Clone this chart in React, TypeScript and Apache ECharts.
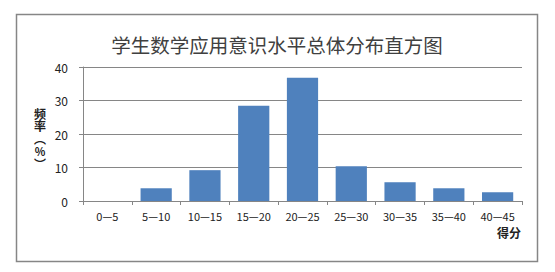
import React, { useEffect, useRef } from "react";
import * as echarts from "echarts";

// Score intervals (得分) and relative frequency (%)
const categories = ["0—5", "5—10", "10—15", "15—20", "20—25", "25—30", "30—35", "35—40", "40—45"];
const frequency = [0, 3.8, 9.2, 28.4, 36.8, 10.4, 5.6, 3.8, 2.6];
const yTicks = { min: 0, max: 40, interval: 10 };

const TITLE = "学生数学应用意识水平总体分布直方图";
// vertical axis name, one glyph per row (vertical-form brackets)
const Y_NAME_CHARS = ["频", "率", "︵", "%", "︶"];
const X_NAME = "得分";

const GRAY = "#868686";
const CJK = '"Noto Sans CJK SC", "Noto Sans", sans-serif';

export default function App() {
  const ref = useRef<HTMLDivElement>(null);

  useEffect(() => {
    if (!ref.current) return;
    const chart = echarts.init(ref.current, null, { renderer: "svg" });
    const yNameTexts = Y_NAME_CHARS.map((ch, i) => ({
      type: "text",
      x: 40,
      y: 113 + i * 12.5,
      style: {
        text: ch,
        fontFamily: CJK,
        fontSize: ch === "%" ? 11 : 12,
        lineHeight: 12,
        fontWeight: "bold",
        fill: "#222",
        align: "center",
        verticalAlign: "middle",
      },
    }));
    chart.setOption({
      animation: false,
      backgroundColor: "#ffffff",
      title: {
        text: TITLE,
        left: 272,
        textAlign: "center",
        top: 30,
        textStyle: { fontFamily: CJK, fontSize: 19.5, fontWeight: "normal", color: "#404040" },
      },
      grid: { left: 83, right: 33, top: 67, bottom: 71, containLabel: false },
      xAxis: {
        type: "category",
        data: categories,
        axisLine: { show: true, lineStyle: { color: GRAY, width: 1 } },
        axisTick: { show: true, length: 4, lineStyle: { color: GRAY } },
        axisLabel: { fontFamily: CJK, fontSize: 11, color: "#222", margin: 9, interval: 0 },
        splitLine: { show: false },
      },
      yAxis: {
        type: "value",
        min: yTicks.min,
        max: yTicks.max,
        interval: yTicks.interval,
        axisLine: { show: true, lineStyle: { color: GRAY, width: 1 } },
        axisTick: { show: true, length: 4, lineStyle: { color: GRAY } },
        axisLabel: { fontFamily: CJK, fontSize: 12, color: "#222", margin: 15 },
        splitLine: { show: true, lineStyle: { color: GRAY, width: 1 } },
      },
      series: [
        {
          type: "bar",
          data: frequency,
          barCategoryGap: "36%",
          itemStyle: { color: "#4F81BD" },
        },
      ],
      graphic: [
        {
          type: "rect",
          shape: { x: 16.5, y: 14.5, width: 521, height: 247 },
          style: { fill: "none", stroke: GRAY, lineWidth: 1.5 },
          silent: true,
          z: 100,
        },
        ...yNameTexts,
        {
          type: "text",
          left: 497,
          top: 226,
          style: {
            text: X_NAME,
            fontFamily: CJK,
            fontSize: 12,
            fontWeight: "bold",
            fill: "#222",
          },
        },
      ],
    });
    return () => chart.dispose();
  }, []);

  return (
    <div
      ref={ref}
      style={{ position: "fixed", left: 0, top: 0, width: 555, height: 272 }}
    />
  );
}
